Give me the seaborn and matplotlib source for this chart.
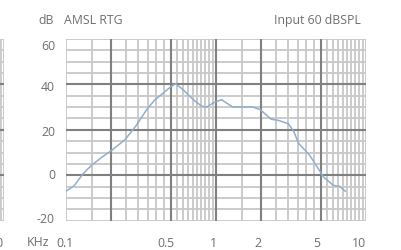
import numpy as np
import pandas as pd
import matplotlib
matplotlib.use("Agg")
import matplotlib.pyplot as plt
import matplotlib.transforms as mtrans
import seaborn as sns

# ---- data ----
freq_khz = [0.1, 0.113, 0.1305, 0.148, 0.173, 0.2, 0.247, 0.296, 0.345, 0.392,
            0.434, 0.5, 0.538, 0.6, 0.706, 0.802, 0.866, 0.96, 1.09, 1.17,
            1.29, 1.48, 1.77, 1.97, 2.33, 2.6, 3.04, 3.3, 3.55, 4.2,
            4.8, 5.2, 6.04, 6.67, 7.3]
gain_db = [-7.0, -4.7, 0.8, 4.4, 7.9, 10.8, 15.6, 22.2, 28.9, 33.3,
           35.6, 39.0, 40.3, 37.8, 33.3, 30.4, 30.0, 31.9, 33.3, 31.9,
           30.1, 30.1, 30.0, 28.9, 24.7, 24.2, 22.7, 19.3, 14.1, 8.9,
           3.0, -0.7, -4.4, -4.9, -7.1]
x_tick_values = [0.1, 0.5, 1, 2, 5, 10]
x_tick_labels = ["0.1", "0.5", "1", "2", "5", "10"]
y_tick_values = [-20, 0, 20, 40, 60]
y_tick_labels = ["-20", "0", "20", "40", "60"]
title_left = "AMSL RTG"
title_unit = "dB"
title_right = "Input 60 dBSPL"
x_unit = "KHz"

df = pd.DataFrame({"freq": freq_khz, "gain": gain_db})

W, H = 401, 251
fig = plt.figure(figsize=(W / 100, H / 100), dpi=100)
sns.set_style("white")
plt.rcParams["font.family"] = ["Open Sans", "DejaVu Sans"]
FS = 8.8

LIGHT = "#c9c9c9"
DARK = "#808080"
TEXT = "#6e6e6e"
CURVE = "#90aecb"

def fx(px):
    return px / W

def fy(py):
    return 1 - py / H

ax_left_px, ax_right_px, ax_top_px, ax_bot_px = 66, 366, 40, 221.7

def style_grid(ax, partial=False):
    ax.set_xscale("log")
    ax.set_xlim(0.1, 10)
    ax.set_ylim(-20, 60)
    light_x = list(np.arange(0.1, 1.0001, 0.05)) + list(np.arange(1.5, 10.001, 0.5))
    for v in light_x:
        ax.axvline(v, color=LIGHT, lw=1.35, zorder=1)
    for v in range(-20, 61, 5):
        ax.axhline(v, color=LIGHT, lw=1.35, zorder=1)
    for v in [0.2, 0.5, 1, 2, 5]:
        ax.axvline(v, color=DARK, lw=1.5, zorder=2)
    for v in [0, 20, 40]:
        ax.axhline(v, color=DARK, lw=1.5, zorder=2)
    for s in ax.spines.values():
        s.set_visible(False)
    ax.xaxis.set_minor_locator(matplotlib.ticker.NullLocator())
    ax.tick_params(axis="both", length=0, labelsize=FS, labelcolor=TEXT)
    ax.tick_params(axis="y", pad=8)
    ax.tick_params(axis="x", pad=11)
    ax.set_xlabel("")
    ax.set_ylabel("")
    if partial:
        ax.set_xticks([10])
        ax.set_xticklabels(["10"])
        ax.set_yticks([])
        xoff = [-7]
    else:
        ax.set_xticks(x_tick_values)
        ax.set_xticklabels(x_tick_labels)
        ax.set_yticks(y_tick_values)
        ax.set_yticklabels(y_tick_labels)
        xoff = [-1, -5, -3, -3, -4, -7]
        yoff = [4, 2, 0, -1, -5]
        for lab, dy in zip(ax.get_yticklabels(), yoff):
            lab.set_transform(lab.get_transform() + mtrans.ScaledTranslation(0, dy / 100, fig.dpi_scale_trans))
    for lab, dx in zip(ax.get_xticklabels(), xoff):
        lab.set_transform(lab.get_transform() + mtrans.ScaledTranslation(dx / 100, 0, fig.dpi_scale_trans))

# partial neighbouring panel on the left (only its right edge is visible)
offset = 4 - ax_right_px
axL = fig.add_axes([fx(ax_left_px + offset), fy(ax_bot_px), fx(300), (ax_bot_px - ax_top_px) / H])
style_grid(axL, partial=True)

# main panel
ax = fig.add_axes([fx(ax_left_px), fy(ax_bot_px), fx(300), (ax_bot_px - ax_top_px) / H])
style_grid(ax)
sns.lineplot(data=df, x="freq", y="gain", ax=ax, color=CURVE, lw=1.1, zorder=5, sort=False)
ax.set_xlim(0.1, 10)
ax.set_ylim(-20, 60)
ax.set_xlabel("")
ax.set_ylabel("")

fig.text(fx(38), fy(20.7), title_unit, ha="left", va="center", fontsize=FS, color=TEXT)
fig.text(fx(64), fy(20.7), title_left, ha="left", va="center", fontsize=FS, color=TEXT)
fig.text(fx(361), fy(20.7), title_right, ha="right", va="center", fontsize=FS, color=TEXT)
fig.text(fx(27), fy(243), x_unit, ha="left", va="center", fontsize=FS, color=TEXT)

fig.savefig("out.png", dpi=100)
